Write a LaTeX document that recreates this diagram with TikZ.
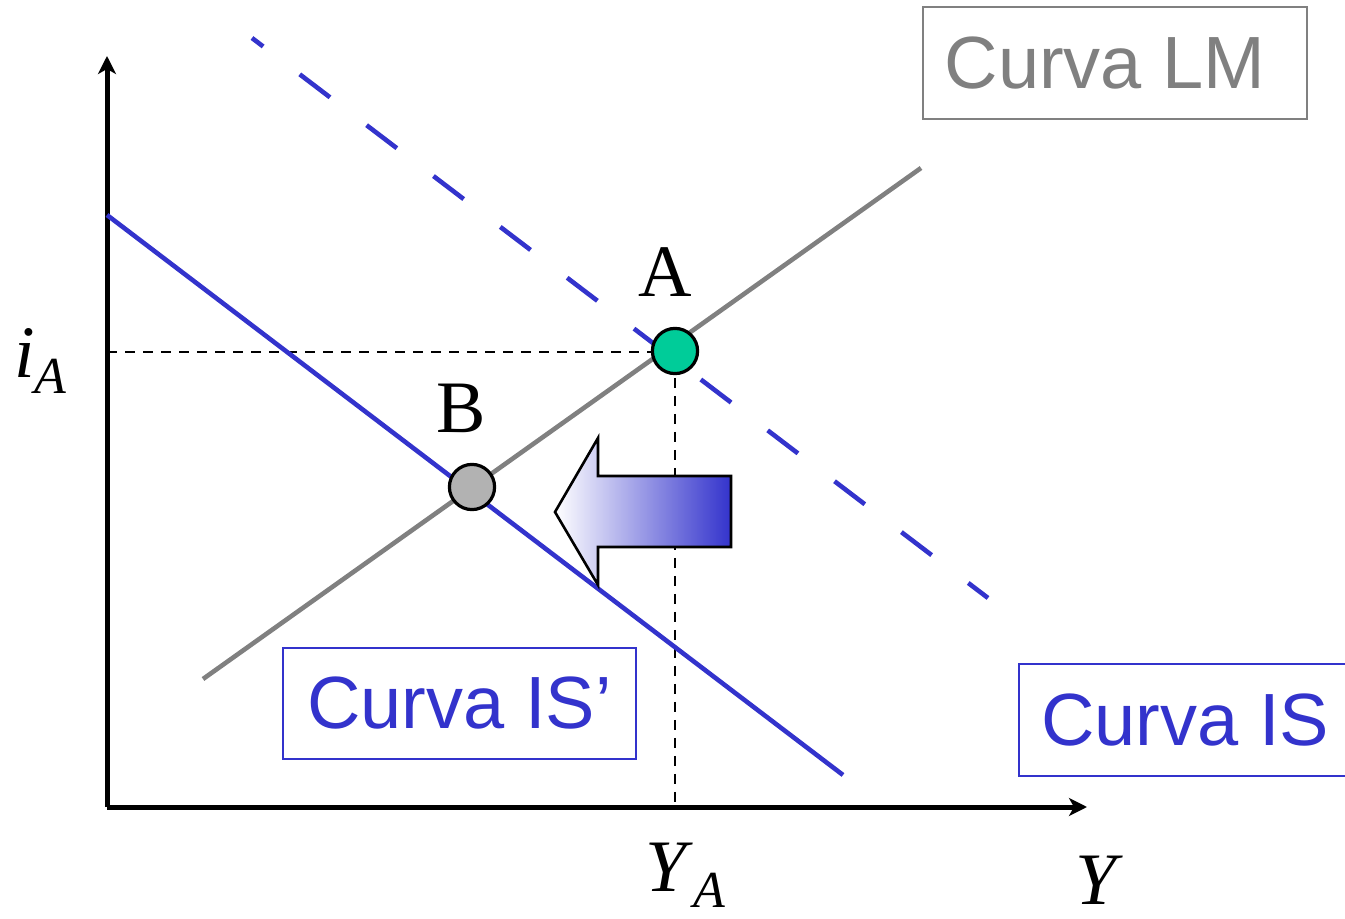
\documentclass[tikz,border=0pt]{standalone}
\usepackage{fontspec}
\setmainfont{Liberation Serif}
\newfontfamily\boxfont{Liberation Sans}
\usetikzlibrary{arrows.meta}

\definecolor{isblue}{RGB}{51,51,204}
\definecolor{lmgray}{RGB}{128,128,128}
\definecolor{ptgreen}{RGB}{0,204,153}
\definecolor{ptgray}{RGB}{178,178,178}

\newcommand{\biglbl}{\fontsize{37}{40}\selectfont}
\newcommand{\sublbl}[2]{\textit{#1}\raisebox{-8pt}{\fontsize{26}{28}\selectfont\textit{#2}}}

\tikzstyle{axis} = [line width=2.5pt, -{Stealth[length=9pt,width=9pt,inset=2.5pt]}]
\tikzstyle{curvebox} = [draw, line width=1.2pt, font=\boxfont\biglbl, inner sep=0pt]
\tikzstyle{eqpoint} = [circle, draw, line width=1.6pt, minimum size=22.6pt, inner sep=0pt]
\tikzstyle{guide} = [black, line width=1pt, dash pattern=on 5pt off 4pt]
\tikzstyle{ptlabel} = [font=\biglbl, anchor=base, inner sep=0pt]
\tikzstyle{axlabel} = [font=\biglbl, anchor=base west, inner sep=0pt]

\begin{document}
\begin{tikzpicture}[x=0.5pt, y=-0.5pt]
	\useasboundingbox (0,0) rectangle (1345,919);
	
	% axes
	\coordinate (O) at (107,807);
	\coordinate (ytop) at (107,56);
	\coordinate (xend) at (1087,807);
	\draw [axis] (O) -- (ytop);
	\draw [axis] (O) -- (xend);
	
	% guides to point A
	\coordinate (iAy) at (107,352);
	\coordinate (Aguide) at (675,352);
	\coordinate (YAx) at (675,807);
	\draw [guide] (iAy) -- (Aguide) -- (YAx);
	
	% curves
	\draw [lmgray, line width=2.3pt] (203,679) -- (921,168);
	\draw [isblue, line width=2.3pt, dash pattern=on 19pt off 23pt, dash phase=12pt] (252,38) -- (988,598);
	\draw [isblue, line width=2.3pt] (107,215) -- (843,775);
	
	% shift of IS
	\draw [line width=1.3pt, left color=white, middle color=isblue!25, right color=isblue] (555,512) -- (598,438) -- (598,476) -- (731,476) -- (731,547) -- (598,547) -- (598,585) -- cycle;
	
	% equilibria
	\node [eqpoint, fill=ptgreen] (A) at (675,351) {};
	\node [eqpoint, fill=ptgray] (B) at (472,487) {};
	\node [ptlabel] (Alab) at (665,297) {A};
	\node [ptlabel] (Blab) at (461,433) {B};
	
	% axis labels
	\node [axlabel] (iA) at (14,378) {\sublbl{i}{A}};
	\node [axlabel] (YA) at (645,891) {\sublbl{Y}{A}};
	\node [axlabel] (Y) at (1075,904) {\textit{Y}};
	
	% curve names
	\node [curvebox, draw=lmgray, text=lmgray, minimum width=192pt, minimum height=56pt] (LM) at (1115,63) {Curva LM\kern10pt};
	\node [curvebox, draw=isblue, text=isblue, minimum width=176.5pt, minimum height=55.5pt] (ISp) at (459.5,703.5) {Curva IS’};
	\node [curvebox, draw=isblue, text=isblue, minimum width=170pt, minimum height=56pt, anchor=west] (IS) at (1018,720) {Curva IS\kern4pt};
\end{tikzpicture}
\end{document}
